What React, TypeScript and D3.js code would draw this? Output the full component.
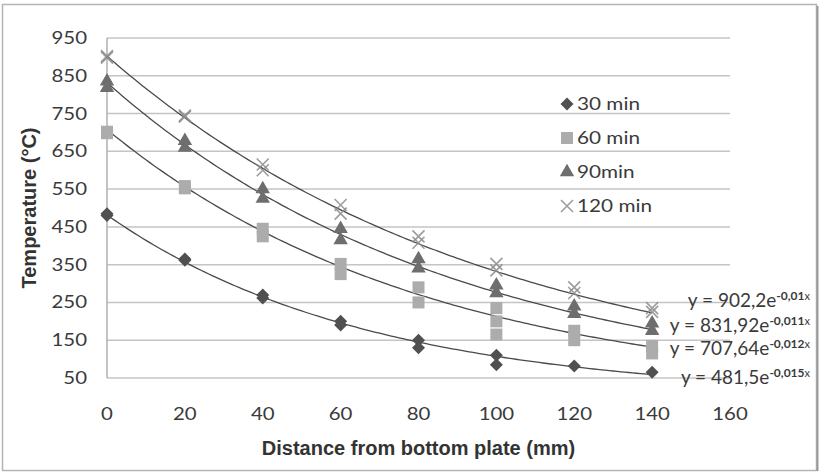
import * as d3 from 'd3';
import React, { useEffect, useRef } from 'react';

// distance from bottom plate (mm)
const distances = [0, 20, 40, 60, 80, 100, 120, 140];

// measured temperatures (°C), replicates per distance
const temp30 = [[485, 480], [365, 362], [270, 262], [200, 190], [150, 130], [110, 85], [82], [65]];
const temp60 = [[702, 698], [558, 552], [445, 425], [352, 325], [290, 250], [235, 200, 165], [175, 150], [135, 115]];
const temp90 = [[835, 818], [678, 660], [550, 525], [445, 415], [365, 340], [295, 275], [240, 220], [195, 175]];
const temp120 = [[902, 898], [745, 742], [615, 600], [508, 485], [425, 408], [352, 335], [290, 275], [235, 225]];

const seriesNames = ['30 min', '60 min', '90min', '120 min'];

// exponential trendline fits y = a * e^(b x)
const fitA = [481.5, 707.64, 831.92, 902.2];
const fitB = [-0.015, -0.012, -0.011, -0.01];
const fitALabel = ['481,5', '707,64', '831,92', '902,2'];
const fitBLabel = ['-0,015', '-0,012', '-0,011', '-0,01'];

const xTicks = [0, 20, 40, 60, 80, 100, 120, 140, 160];
const yTicks = [50, 150, 250, 350, 450, 550, 650, 750, 850, 950];

const width = 824;
const height = 475;
const margin = { top: 38, right: 94, bottom: 97, left: 107 };

type G = d3.Selection<SVGGElement, unknown, null, undefined>;

const App: React.FC = () => {
  const ref = useRef<SVGSVGElement>(null);

  useEffect(() => {
    const svg = d3.select(ref.current);
    svg.selectAll('*').remove();

    const x = d3.scaleLinear().domain([0, 160]).range([margin.left, width - margin.right]);
    const y = d3.scaleLinear().domain([50, 950]).range([height - margin.bottom, margin.top]);

    const font = 'Lato, "Open Sans", sans-serif';
    const boldFont = '"Liberation Sans", Arial, sans-serif';

    // text with a slight horizontal stretch
    const label = (g: any, tx: number, ty: number, anchor: string, size: number, sx: number) =>
      g.append('text')
        .attr('transform', `translate(${tx},${ty}) scale(${sx},1)`)
        .attr('text-anchor', anchor)
        .attr('font-family', font)
        .attr('font-size', size)
        .attr('fill', '#3a3a3a');

    // chart frame
    svg.append('rect')
      .attr('x', 2.5).attr('y', 4.5).attr('width', 814).attr('height', 466)
      .attr('fill', '#fff').attr('stroke', '#b4b4b4').attr('stroke-width', 1.5);
    svg.append('line')
      .attr('x1', 817.5).attr('x2', 817.5).attr('y1', 6).attr('y2', 471)
      .attr('stroke', '#9a9a9a').attr('stroke-width', 2);

    // horizontal gridlines
    svg.append('g')
      .selectAll('line')
      .data(yTicks)
      .join('line')
      .attr('x1', x(0)).attr('x2', x(160))
      .attr('y1', (d) => y(d)).attr('y2', (d) => y(d))
      .attr('stroke', '#c4c4c4').attr('stroke-width', 1.5);

    // left axis line
    svg.append('line')
      .attr('x1', x(0)).attr('x2', x(0)).attr('y1', y(950)).attr('y2', y(50))
      .attr('stroke', '#b0b0b0').attr('stroke-width', 1.5);

    // tick labels
    const yLab = svg.append('g');
    yTicks.forEach((d) => label(yLab, x(0) - 20, y(d) + 6, 'end', 17, 1.2).text(d));
    const xLab = svg.append('g');
    xTicks.forEach((d) => label(xLab, x(d), y(50) + 42, 'middle', 17, 1.2).text(d));

    // axis titles
    svg.append('text')
      .attr('transform', `translate(36,${(y(950) + y(50)) / 2}) rotate(-90)`)
      .attr('text-anchor', 'middle')
      .attr('font-family', boldFont)
      .attr('font-weight', 'bold').attr('font-size', 20).attr('fill', '#333')
      .text('Temperature (°C)');
    svg.append('text')
      .attr('x', (x(0) + x(160)) / 2).attr('y', 455)
      .attr('text-anchor', 'middle')
      .attr('font-family', boldFont)
      .attr('font-weight', 'bold').attr('font-size', 20).attr('fill', '#333')
      .text('Distance from bottom plate (mm)');

    // trendlines
    const xs = d3.range(0, 140.5, 1);
    fitA.forEach((a, k) => {
      const b = fitB[k];
      const path = d3.line<number>()
        .x((d) => x(d))
        .y((d) => y(a * Math.exp(b * d)));
      svg.append('path')
        .datum(xs)
        .attr('fill', 'none')
        .attr('stroke', '#4a4a4a')
        .attr('stroke-width', 1.3)
        .attr('d', path);
    });

    // markers
    const markerFor = (k: number, g: G, cx: number, cy: number) => {
      if (k === 0) {
        const s = 6.5;
        g.append('path')
          .attr('d', `M${cx},${cy - s}L${cx + s},${cy}L${cx},${cy + s}L${cx - s},${cy}Z`)
          .attr('fill', '#505050');
      } else if (k === 1) {
        g.append('rect').attr('x', cx - 6).attr('y', cy - 6).attr('width', 12).attr('height', 12)
          .attr('fill', '#acacac');
      } else if (k === 2) {
        g.append('path').attr('d', d3.symbol(d3.symbolTriangle, 90)()).attr('transform', `translate(${cx},${cy})`)
          .attr('fill', '#6e6e6e');
      } else {
        const s = 6;
        g.append('path')
          .attr('d', `M${cx - s},${cy - s}L${cx + s},${cy + s}M${cx - s},${cy + s}L${cx + s},${cy - s}`)
          .attr('stroke', '#8c8c8c').attr('stroke-width', 1.6).attr('fill', 'none').attr('opacity', 0.85);
      }
    };

    const allSeries = [temp30, temp60, temp90, temp120];
    allSeries.forEach((series, k) => {
      const g = svg.append('g');
      series.forEach((reps, i) => {
        reps.forEach((v) => markerFor(k, g, x(distances[i]), y(v)));
      });
    });

    // legend
    const legend = svg.append('g');
    seriesNames.forEach((name, k) => {
      const ly = 104 + k * 34;
      markerFor(k, legend, 567, ly);
      label(legend, 577, ly + 6, 'start', 17, 1.22).text(name);
    });

    // trendline equations
    const eqY = [384, 355, 332, 307];
    fitALabel.forEach((a, k) => {
      const t = label(svg, 810, eqY[k], 'end', 19, 1.0);
      t.append('tspan').text(`y = ${a}e`);
      t.append('tspan').attr('dy', -7).attr('font-size', 12).attr('font-weight', 'bold').text(fitBLabel[k]);
      t.append('tspan').attr('font-size', 11).text('x');
    });
  }, []);

  return (
    <svg ref={ref} width={width} height={height} style={{ position: 'absolute', left: 0, top: 0 }}></svg>
  );
};

export default App;
